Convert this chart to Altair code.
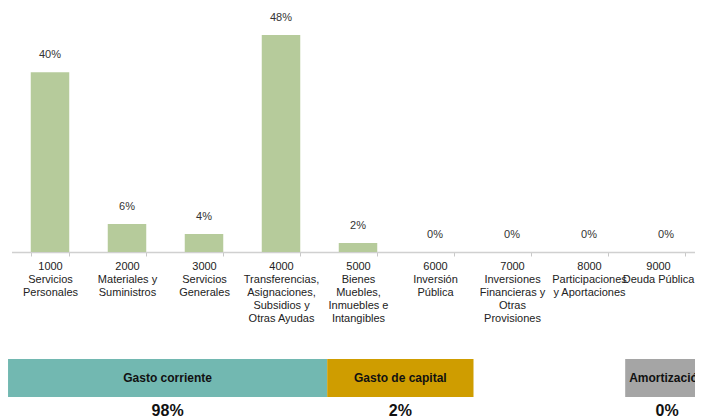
import altair as alt
import pandas as pd

# ---- data ----
categories = [
    "1000|Servicios|Personales",
    "2000|Materiales y|Suministros",
    "3000|Servicios|Generales",
    "4000|Transferencias,|Asignaciones,|Subsidios y|Otras Ayudas",
    "5000|Bienes|Muebles,|Inmuebles e|Intangibles",
    "6000|Inversión|Pública",
    "7000|Inversiones|Financieras y|Otras|Provisiones",
    "8000|Participaciones|y Aportaciones",
    "9000|Deuda Pública",
]
shares = [39.8, 6.2, 4.0, 48.0, 2.0, 0.0, 0.0, 0.0, 0.0]

group_names = ["Gasto corriente", "Gasto de capital", "Amortización"]
group_start = [-0.045, 4.1, 7.97]   # in category-step units
group_end = [4.1, 6.0, 9.06]
group_share = ["98%", "2%", "0%"]
group_colors = ["#72b8b1", "#cf9d00", "#a5a5a5"]

# ---- layout ----
W, H = 687, 412
STEP_RANGE = [3.5, 696.5]
BASE = 244
FONT = "Liberation Sans"

bars_df = pd.DataFrame({"cat": categories, "value": shares})
groups_df = pd.DataFrame({
    "name": group_names,
    "start": group_start,
    "end": group_end,
    "share": group_share,
})

band_scale = alt.Scale(range=STEP_RANGE, paddingInner=0.5, paddingOuter=0.25)
y_enc = alt.Y("value:Q", scale=alt.Scale(domain=[0, 54], range=[BASE, 0]), axis=None)

x_axis = alt.Axis(
    title=None,
    labelExpr="split(datum.label, '|')",
    labelAngle=0,
    tickBand="extent",
    offset=-(H - BASE),
    domainColor="#d0d0d0",
    domainWidth=1.5,
    tickColor="#c8c8c8",
    tickSize=4,
    labelPadding=4,
    labelFontSize=11,
    labelFont=FONT,
    labelColor="#222222",
    labelLineHeight=13,
    labelBaseline="top",
    labelOffset={"condition": {"test": "datum.value === '" + categories[-1] + "'", "value": -8}, "value": 0},
    labelOverlap=False,
    labelBound=False,
    labelFlush=False,
    grid=False,
)
x_enc = alt.X("cat:N", sort=categories, scale=band_scale, axis=x_axis)

bars = alt.Chart(bars_df).mark_bar(color="#b6cb9b").encode(
    x=x_enc,
    y=y_enc,
)

labels = alt.Chart(bars_df).transform_calculate(
    lbl="format(datum.value, '.0f') + '%'"
).mark_text(dy=-17, fontSize=11, font=FONT, color="#333333", baseline="middle").encode(
    x=x_enc,
    y=y_enc,
    text="lbl:N",
)

top = alt.layer(bars, labels)

strip_x = alt.Scale(domain=[0, 9], range=STEP_RANGE, zero=False, nice=False)

rects = alt.Chart(groups_df).mark_rect().encode(
    x=alt.X("start:Q", scale=strip_x, axis=None),
    x2="end:Q",
    y=alt.value(351),
    y2=alt.value(389),
    color=alt.Color("name:N", scale=alt.Scale(domain=group_names, range=group_colors), legend=None),
)

names = alt.Chart(groups_df).transform_calculate(
    mid="(datum.start + datum.end) / 2"
).mark_text(fontSize=12, fontWeight="bold", font=FONT, color="#111111", baseline="middle").encode(
    x=alt.X("mid:Q", scale=strip_x, axis=None),
    y=alt.value(370),
    text="name:N",
)

pcts = alt.Chart(groups_df).transform_calculate(
    mid="(datum.start + datum.end) / 2"
).mark_text(fontSize=16, fontWeight="bold", font=FONT, color="#111111", baseline="alphabetic").encode(
    x=alt.X("mid:Q", scale=strip_x, axis=None),
    y=alt.value(408),
    text="share:N",
)

bottom = alt.layer(rects, names, pcts)

chart = alt.layer(top, bottom).resolve_scale(
    x="independent", y="independent", color="independent"
).properties(
    width=W, height=H,
    autosize=alt.AutoSizeParams(type="none"),
    padding=0,
).configure_view(stroke=None)

chart.save("out.html", embed_options={"renderer": "svg", "actions": False})
